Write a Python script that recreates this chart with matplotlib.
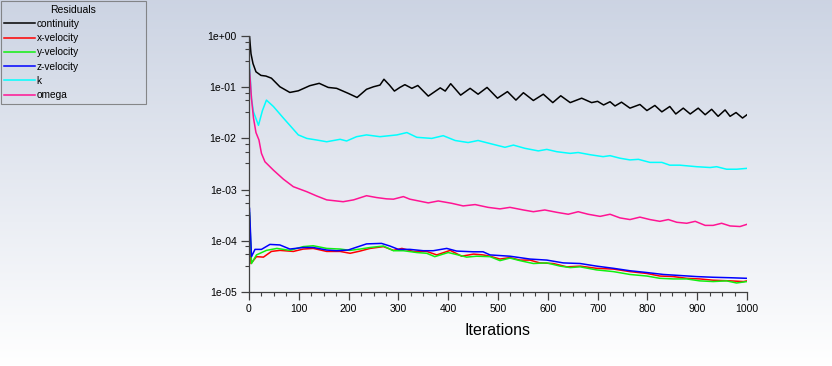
import numpy as np
import matplotlib
matplotlib.use("Agg")
import matplotlib.pyplot as plt
from matplotlib.ticker import MultipleLocator, FuncFormatter, LogLocator, NullFormatter

plt.rcParams['font.family'] = ['Liberation Sans', 'DejaVu Sans']

cont_it = [1, 4, 8, 14, 24, 34, 45, 62, 82, 99, 122, 141, 159, 176, 199, 217, 236, 250, 263, 271,
           282, 292, 303, 313, 327, 339, 360, 384, 394, 405, 425, 444, 460, 478, 499, 519, 536, 551, 571, 591,
           610, 626, 645, 668, 688, 700, 712, 725, 735, 748, 765, 785, 799, 815, 829, 845, 857, 872, 886, 902,
           916, 929, 942, 956, 966, 978, 991, 1000]
continuity = [1.0, 0.45, 0.29, 0.20, 0.17, 0.165, 0.15, 0.102, 0.079, 0.085, 0.107, 0.119, 0.099, 0.095, 0.076, 0.063, 0.091, 0.102, 0.110, 0.143,
              0.110, 0.084, 0.099, 0.112, 0.095, 0.108, 0.067, 0.097, 0.084, 0.117, 0.070, 0.095, 0.073, 0.099, 0.061, 0.082, 0.056, 0.078, 0.055, 0.073,
              0.050, 0.068, 0.050, 0.061, 0.050, 0.053, 0.045, 0.052, 0.043, 0.051, 0.039, 0.046, 0.035, 0.044, 0.033, 0.042, 0.030, 0.039, 0.030, 0.039,
              0.029, 0.037, 0.027, 0.036, 0.027, 0.032, 0.025, 0.029]

xv_it = [1, 4, 15, 29, 45, 62, 89, 109, 129, 156, 183, 203, 223, 243, 270, 290, 307, 330, 357, 377,
         404, 427, 451, 470, 484, 504, 524, 544, 564, 584, 611, 638, 665, 698, 732, 765, 799, 825, 852, 879,
         905, 932, 966, 993, 1000]
x_velocity = [3.0e-4, 3.6e-5, 4.9e-5, 4.8e-5, 6.2e-5, 6.5e-5, 6.2e-5, 6.9e-5, 7.1e-5, 6.2e-5,
              6.2e-5, 5.7e-5, 6.3e-5, 7.1e-5, 7.7e-5, 6.5e-5, 7.1e-5, 6.2e-5, 6.2e-5, 5.3e-5,
              6.5e-5, 5.0e-5, 5.5e-5, 5.3e-5, 5.0e-5, 4.4e-5, 4.7e-5, 4.2e-5, 4.2e-5, 3.7e-5,
              3.6e-5, 3.1e-5, 3.2e-5, 2.9e-5, 2.8e-5, 2.5e-5, 2.3e-5, 2.05e-5, 2.0e-5, 1.85e-5,
              1.8e-5, 1.7e-5, 1.65e-5, 1.6e-5, 1.65e-5]

yv_it = [1, 5, 15, 35, 56, 82, 109, 129, 156, 183, 203, 223, 243, 270, 290, 310, 337, 357, 373, 400,
         420, 437, 457, 484, 504, 524, 544, 571, 598, 625, 645, 665, 698, 732, 765, 799, 825, 852, 879, 905,
         932, 959, 979, 1000]
y_velocity = [3.5e-4, 3.6e-5, 5.3e-5, 6.5e-5, 7.1e-5, 6.5e-5, 7.7e-5, 8.0e-5, 7.1e-5, 6.9e-5,
              6.5e-5, 6.9e-5, 7.4e-5, 7.9e-5, 6.4e-5, 6.4e-5, 5.9e-5, 5.7e-5, 4.9e-5, 5.9e-5,
              5.3e-5, 4.8e-5, 5.0e-5, 4.9e-5, 4.1e-5, 4.6e-5, 4.1e-5, 3.6e-5, 3.7e-5, 3.2e-5,
              3.0e-5, 3.1e-5, 2.7e-5, 2.5e-5, 2.2e-5, 2.05e-5, 1.85e-5, 1.8e-5, 1.8e-5, 1.65e-5,
              1.6e-5, 1.65e-5, 1.5e-5, 1.6e-5]

zv_it = [1, 5, 12, 25, 42, 62, 82, 109, 129, 156, 176, 199, 216, 236, 266, 283, 300, 323, 350, 370,
         397, 417, 450, 470, 484, 524, 564, 598, 631, 665, 698, 732, 765, 799, 832, 865, 899, 932, 966, 1000]
z_velocity = [4.3e-4, 4.9e-5, 6.8e-5, 6.8e-5, 8.5e-5, 8.3e-5, 6.9e-5, 7.4e-5, 7.4e-5, 6.6e-5,
              6.4e-5, 6.6e-5, 7.5e-5, 8.7e-5, 8.9e-5, 7.9e-5, 6.8e-5, 6.8e-5, 6.4e-5, 6.4e-5,
              7.1e-5, 6.3e-5, 6.1e-5, 6.1e-5, 5.3e-5, 5.0e-5, 4.4e-5, 4.2e-5, 3.7e-5, 3.6e-5,
              3.2e-5, 2.9e-5, 2.6e-5, 2.4e-5, 2.2e-5, 2.1e-5, 2.0e-5, 1.94e-5, 1.9e-5, 1.85e-5]

k_it = [1, 5, 9, 19, 27, 35, 49, 69, 82, 99, 116, 136, 156, 183, 196, 216, 236, 263, 297, 317,
        337, 367, 390, 414, 440, 460, 487, 514, 531, 554, 581, 598, 618, 645, 661, 685, 711, 725, 745, 765,
        782, 805, 829, 845, 865, 899, 926, 939, 959, 979, 1000]
k = [0.27, 0.06, 0.033, 0.018, 0.035, 0.056, 0.042, 0.025, 0.018, 0.0117,
     0.0100, 0.0093, 0.0086, 0.0096, 0.0089, 0.0108, 0.0117, 0.0108, 0.0117, 0.0130,
     0.0105, 0.0100, 0.0113, 0.0091, 0.0083, 0.0091, 0.0078, 0.0067, 0.0074, 0.0064,
     0.0057, 0.0061, 0.0055, 0.0051, 0.0053, 0.0048, 0.0044, 0.0046, 0.0041, 0.0038,
     0.0039, 0.0034, 0.0034, 0.0030, 0.0030, 0.0028, 0.0027, 0.0028, 0.0025, 0.0025, 0.0026]

om_it = [1, 5, 9, 14, 20, 25, 32, 49, 69, 89, 116, 136, 156, 189, 210, 236, 256, 276, 290, 310,
         323, 360, 380, 407, 430, 454, 480, 504, 524, 551, 571, 594, 618, 641, 661, 681, 705, 725, 745, 765,
         785, 805, 825, 842, 859, 879, 896, 916, 932, 949, 966, 986, 1000]
omega = [0.22, 0.06, 0.025, 0.013, 0.0093, 0.0051, 0.0035, 0.0024, 0.0016, 0.00114,
         0.00091, 0.00075, 0.00063, 0.00058, 0.00063, 0.00076, 0.00070, 0.00066, 0.00065, 0.00073,
         0.00065, 0.00055, 0.00060, 0.00054, 0.00048, 0.00051, 0.00045, 0.00042, 0.00045, 0.00040,
         0.00037, 0.00040, 0.00036, 0.00033, 0.00037, 0.00033, 0.00030, 0.00033, 0.00028, 0.00026,
         0.00029, 0.00026, 0.00024, 0.00026, 0.00023, 0.00022, 0.00024, 0.00020, 0.00020, 0.00022,
         0.000195, 0.00019, 0.00021]

series = [
    (cont_it, continuity, 'continuity', '#000000'),
    (xv_it, x_velocity, 'x-velocity', '#ff0000'),
    (yv_it, y_velocity, 'y-velocity', '#10f010'),
    (zv_it, z_velocity, 'z-velocity', '#0000ff'),
    (k_it, k, 'k', '#00ffff'),
    (om_it, omega, 'omega', '#ff1493'),
]

W, H = 832, 366
fig = plt.figure(figsize=(W / 100, H / 100), dpi=100)

# tlo z gradientem
bg = fig.add_axes([0, 0, 1, 1])
top = np.array([0.80, 0.83, 0.89])
bot = np.array([1.0, 1.0, 1.0])
t = np.linspace(0, 1, 256)[:, None]
grad = top * (1 - t) + bot * t
bg.imshow(grad[:, None, :].repeat(2, axis=1), aspect='auto', extent=[0, 1, 0, 1])
bg.axis('off')

ax = fig.add_axes([249 / W, 1 - 292 / H, 498 / W, 256 / H])
ax.set_facecolor('none')

for it, vals, name, col in series:
    ax.plot(it, vals, color=col, lw=1.1, label=name)

ax.set_yscale('log')
ax.set_ylim(1e-5, 1e0)
ax.set_xlim(0, 1000)
ax.xaxis.set_major_locator(MultipleLocator(100))
ax.xaxis.set_minor_locator(MultipleLocator(25))
ax.yaxis.set_major_locator(LogLocator(base=10, numticks=10))
ax.yaxis.set_minor_locator(LogLocator(base=10, subs=(3.25, 5.5, 7.75), numticks=10))
ax.yaxis.set_minor_formatter(NullFormatter())
ax.yaxis.set_major_formatter(FuncFormatter(lambda v, p: f"{v:.0e}"))

for s in ['top', 'right']:
    ax.spines[s].set_visible(False)
for s in ['left', 'bottom']:
    ax.spines[s].set_color('#404040')
    ax.spines[s].set_linewidth(0.9)
ax.tick_params(which='major', length=6, width=0.9, color='#404040', labelsize=7.5, pad=3)
ax.tick_params(which='minor', length=3, width=0.8, color='#404040')
ax.set_xlabel('Iterations', fontsize=11.5, labelpad=6)

leg = fig.legend(loc='upper left', bbox_to_anchor=(0.001, 1 - 101 / H, 145 / W, 100 / H),
                 mode='expand', borderaxespad=0, title='Residuals', fontsize=7.3,
                 title_fontsize=7.5, frameon=True, fancybox=False, handlelength=3.0,
                 handletextpad=0.2, labelspacing=0.42, borderpad=0.35)
leg.get_frame().set_edgecolor('#707070')
leg.get_frame().set_facecolor('none')
leg.get_frame().set_linewidth(0.8)

fig.savefig('out.png', dpi=100)
